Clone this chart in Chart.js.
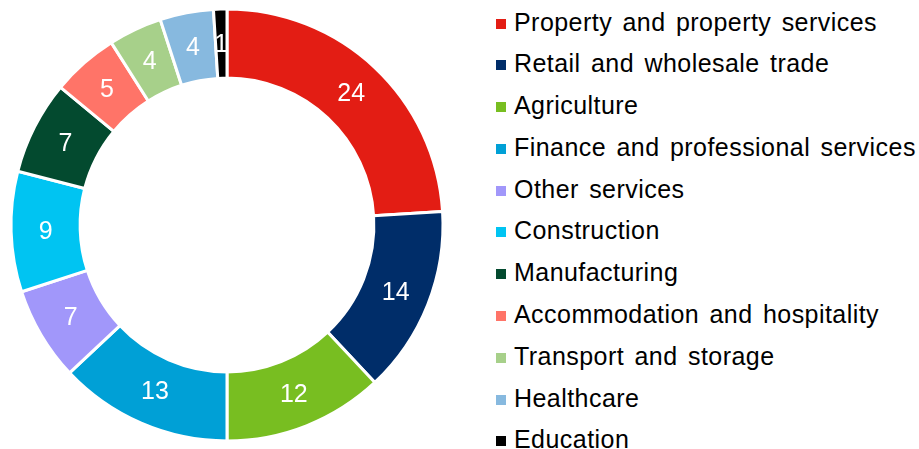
<!DOCTYPE html>
<html lang="en">
<head>
  <meta charset="UTF-8">
  <title>Sectors</title>
  <script src="https://cdn.jsdelivr.net/npm/chart.js"></script>
  <style>
    body {
      margin: 0;
      background: #fff;
      font-family: Arial, "Liberation Sans", sans-serif;
    }
    #chartBox {
      position: absolute;
      left: 0;
      top: 0;
      width: 454px;
      height: 450px;
    }
    #legend {
      position: absolute;
      left: 496px;
      top: 1.5px;
      margin: 0;
      padding: 0;
      list-style: none;
    }
    #legend li {
      height: 41.8px;
      line-height: 41.8px;
      font-size: 25px;
      letter-spacing: 0.45px;
      word-spacing: 3px;
      color: #000;
      white-space: nowrap;
    }
    #legend span {
      display: inline-block;
      width: 10px;
      height: 10px;
      margin-right: 8px;
      vertical-align: 2px;
    }
  </style>
</head>
<body>
  <div id="chartBox"><canvas id="sectorChart"></canvas></div>
  <ul id="legend"></ul>

  <script>
    const sectors = [
      "Property and property services",
      "Retail and wholesale trade",
      "Agriculture",
      "Finance and professional services",
      "Other services",
      "Construction",
      "Manufacturing",
      "Accommodation and hospitality",
      "Transport and storage",
      "Healthcare",
      "Education"
    ];
    const shares = [24, 14, 12, 13, 7, 9, 7, 5, 4, 4, 1];
    const colors = [
      "#E31D14", "#002D69", "#78BE21", "#00A0D6", "#A197FA", "#00C4F2",
      "#034A2F", "#FF7468", "#A7D08A", "#87B9DF", "#000000"
    ];

    // legend as html list
    const legend = document.getElementById("legend");
    sectors.forEach((name, i) => {
      const li = document.createElement("li");
      li.innerHTML = `<span style="background:${colors[i]}"></span>${name}`;
      legend.appendChild(li);
    });

    // values written in the middle of each slice
    const sliceLabels = {
      id: "sliceLabels",
      afterDatasetsDraw(chart) {
        const ctx = chart.ctx;
        const meta = chart.getDatasetMeta(0);
        ctx.save();
        ctx.fillStyle = "#fff";
        ctx.font = "25px Arial, 'Liberation Sans', sans-serif";
        ctx.textAlign = "center";
        ctx.textBaseline = "middle";
        meta.data.forEach((arc, i) => {
          const p = arc.tooltipPosition();
          ctx.fillText(String(shares[i]), p.x, p.y + 1);
        });
        ctx.restore();
      }
    };

    new Chart(document.getElementById("sectorChart"), {
      type: "doughnut",
      data: {
        labels: sectors,
        datasets: [{
          data: shares,
          backgroundColor: colors,
          borderColor: "#fff",
          borderWidth: 3
        }]
      },
      options: {
        responsive: true,
        maintainAspectRatio: false,
        animation: false,
        radius: 216,
        cutout: 152,
        plugins: {
          legend: { display: false },
          tooltip: { enabled: false }
        }
      },
      plugins: [sliceLabels]
    });
  </script>
</body>
</html>
